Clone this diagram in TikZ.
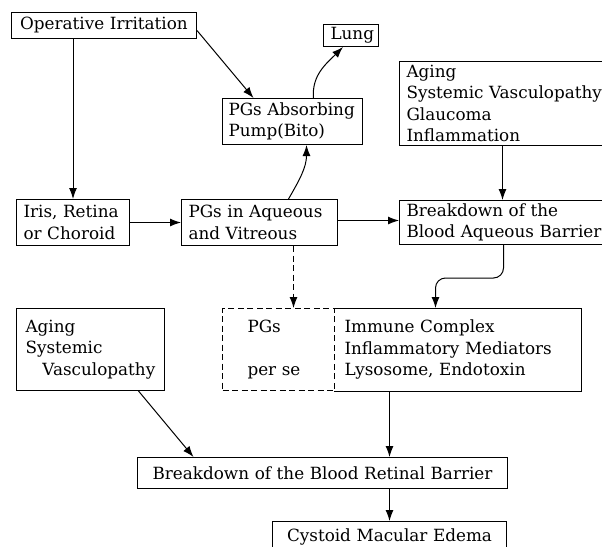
\documentclass[tikz,border=0pt]{standalone}
\usepackage{fontspec}
\setmainfont{DejaVu Serif}
\usetikzlibrary{shapes,arrows,arrows.meta}
\tikzstyle{block} = [rectangle, draw, line width=1pt, anchor=north west,
    inner xsep=7pt, inner ysep=1pt, align=left, font=\fontsize{16.8}{21.5}\selectfont]
\tikzstyle{line} = [draw, line width=1pt, -{Latex[length=11pt,width=8pt]}]
\tikzstyle{dashline} = [dash pattern=on 6pt off 3.5pt]

\begin{document}
\begin{tikzpicture}[x=1pt, y=-1pt]
    \useasboundingbox (0,0) rectangle (602,546);
    \clip (0,0) rectangle (602,546);
    % Place nodes
    \node [block, align=center, text width=171pt, minimum height=26pt] (op) at (11,12) {Operative Irritation};
    \node [block, align=center, text width=41pt, minimum height=22pt] (lung) at (323,24) {Lung};
    \node [block, inner xsep=6pt, text width=128pt, minimum height=46pt] (pump) at (222,98) {PGs Absorbing\\Pump(Bito)};
    \node [block, text width=246pt, minimum height=84pt] (agingA) at (399,61) {Aging\\Systemic Vasculopathy\\Glaucoma\\Inflammation};
    \node [block, text width=99pt, minimum height=46pt] (iris) at (16,199) {Iris, Retina\\or Choroid};
    \node [block, text width=142pt, minimum height=46pt] (aqueous) at (181,199) {PGs in Aqueous\\and Vitreous};
    \node [block, text width=246pt, minimum height=44pt] (bab) at (399,200) {Breakdown of the\\Blood Aqueous Barrier};
    \node [block, dashline, inner xsep=25pt, text width=62pt, minimum height=82pt] (pgs) at (222,308) {PGs\\[\baselineskip]per se};
    \node [block, draw=none, inner xsep=10pt, text width=226pt, minimum height=82pt] (immune) at (334,308) {Immune Complex\\Inflammatory Mediators\\Lysosome, Endotoxin};
    \node [block, inner xsep=9pt, text width=130pt, minimum height=82pt] (agingL) at (16,308) {Aging\\Systemic\\\hspace*{17pt}Vasculopathy};
    \node [block, align=center, text width=356pt, minimum height=31pt] (brb) at (137,457) {Breakdown of the Blood Retinal Barrier};
    \node [block, align=center, text width=220pt, minimum height=30pt] (cme) at (272,521) {Cystoid Macular Edema};
    \draw [line width=1pt] (immune.north west) -- (immune.north east) -- (immune.south east) -- (immune.south west);
    % Draw edges
    \path [line] (iris.north |- op.south) -- (iris.north);
    \path [line] ([yshift=-5pt]op.east) -- ([xshift=-39pt]pump.north);
    \path [line] ([xshift=29pt]aqueous.north) to [out=60, in=-90] ([xshift=14pt]pump.south);
    \path [line] ([xshift=21pt]pump.north) to [out=95, in=-135] ([xshift=-8pt]lung.south);
    \path [line] (iris.east) -- (iris.east -| aqueous.west);
    \path [line] ([yshift=2pt]aqueous.east) -- ([yshift=2pt]aqueous.east -| bab.west);
    \path [line] ([xshift=-27pt]agingA.south) -- ([xshift=-27pt]bab.north);
    \path [line, rounded corners=10pt] ([xshift=-26pt]bab.south) -- ++(0,33) -| ([xshift=-22pt]immune.north);
    \path [line, dashline] ([xshift=34pt]aqueous.south) -- ([xshift=34pt]aqueous.south |- pgs.north);
    \path [line] ([xshift=-68pt]immune.south) -- ([xshift=-68pt]immune.south |- brb.north);
    \path [line] ([xshift=48pt]agingL.south) -- ([xshift=-129pt]brb.north);
    \path [line] (cme.north |- brb.south) -- (cme.north);
\end{tikzpicture}
\end{document}
